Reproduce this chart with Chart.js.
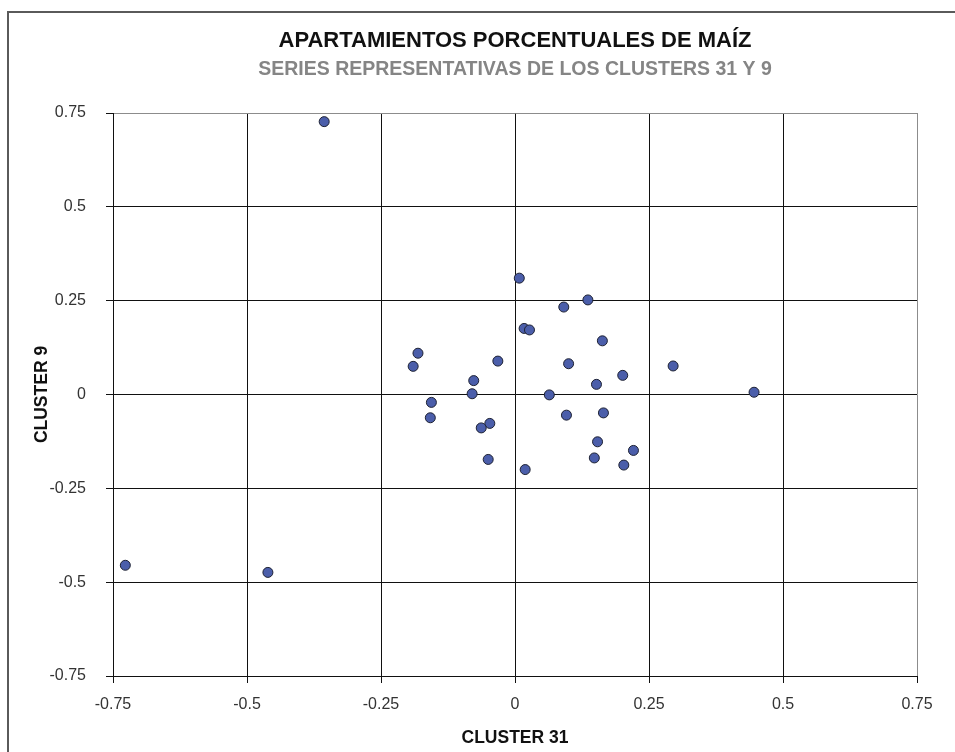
<!DOCTYPE html>
<html>
<head>
<meta charset="utf-8">
<script src="https://cdn.jsdelivr.net/npm/chart.js@4/dist/chart.umd.min.js"></script>
<style>
  html, body { margin: 0; padding: 0; background: #fff; }
  #wrap { width: 955px; height: 752px; }
</style>
</head>
<body>
<div id="wrap"><canvas id="c" width="955" height="752"></canvas></div>
<script>
// ---- Data ----
const cluster31 = [-0.356, -0.727, -0.461, 0.446,
  0.008, 0.136, 0.091, 0.017, 0.027, 0.163, -0.181, -0.190, -0.032, 0.100,
  0.295, 0.201, 0.152, -0.077, -0.080, 0.064, -0.156, -0.158, 0.096, 0.165,
  -0.047, -0.063, 0.154, 0.221, -0.050, 0.148, 0.203, 0.019];
const cluster9 = [0.727, -0.455, -0.474, 0.006,
  0.310, 0.252, 0.233, 0.176, 0.172, 0.143, 0.110, 0.075, 0.089, 0.082,
  0.076, 0.051, 0.027, 0.037, 0.002, -0.001, -0.021, -0.062, -0.055, -0.049,
  -0.077, -0.089, -0.126, -0.149, -0.173, -0.169, -0.188, -0.200];
const tickValues = [-0.75, -0.5, -0.25, 0, 0.25, 0.5, 0.75];
const tickLabels = ['-0.75', '-0.5', '-0.25', '0', '0.25', '0.5', '0.75'];
const titleText = 'APARTAMIENTOS PORCENTUALES DE MAÍZ';
const subtitleText = 'SERIES REPRESENTATIVAS DE LOS CLUSTERS 31 Y 9';
const xTitle = 'CLUSTER 31';
const yTitle = 'CLUSTER 9';

const points = cluster31.map((x, i) => ({ x: x, y: cluster9[i] }));
const FONT = '"Liberation Sans", Arial, sans-serif';

function labelFor(v) {
  const i = tickValues.findIndex(t => Math.abs(t - v) < 1e-9);
  return i >= 0 ? tickLabels[i] : '';
}
function setTicks(scale) {
  scale.ticks = tickValues.map(v => ({ value: v }));
}

const framePlugin = {
  id: 'frame',
  beforeDraw(chart) {
    const ctx = chart.ctx;
    ctx.save();
    ctx.fillStyle = '#fff';
    ctx.fillRect(0, 0, chart.width, chart.height);
    ctx.strokeStyle = '#5a5a5a';
    ctx.lineWidth = 2;
    ctx.strokeRect(8, 12, chart.width + 20, chart.height + 20);
    ctx.restore();
  }
};

new Chart(document.getElementById('c'), {
  type: 'scatter',
  data: {
    datasets: [{
      data: points,
      pointRadius: 5,
      pointHoverRadius: 5,
      backgroundColor: '#4b5eaa',
      borderColor: '#1e2233',
      borderWidth: 1
    }]
  },
  options: {
    responsive: false,
    animation: false,
    devicePixelRatio: 1,
    layout: { padding: { left: 0, right: 38, top: 0, bottom: 0 } },
    plugins: {
      legend: { display: false },
      tooltip: { enabled: false },
      title: {
        display: true,
        text: titleText,
        fullSize: false,
        color: '#111',
        font: { family: FONT, size: 22, weight: 'bold', lineHeight: 1.2 },
        padding: { top: 28, bottom: 0 }
      },
      subtitle: {
        display: true,
        text: subtitleText,
        fullSize: false,
        color: '#858585',
        font: { family: FONT, size: 19.5, weight: 'bold', lineHeight: 1.2 },
        padding: { top: 4, bottom: 31.2 }
      }
    },
    scales: {
      x: {
        type: 'linear',
        min: -0.75,
        max: 0.75,
        afterBuildTicks: setTicks,
        afterFit(scale) { scale.height = 76; },
        grid: {
          color: ctx => (ctx.tick && ctx.tick.value === 0.75) ? '#8c8c8c' : '#111',
          lineWidth: 1,
          tickLength: 7,
          tickColor: '#111'
        },
        border: { color: '#111', width: 1 },
        ticks: {
          color: '#333',
          font: { family: FONT, size: 16 },
          padding: 12,
          maxRotation: 0,
          autoSkip: false,
          callback: v => labelFor(v)
        },
        title: {
          display: true,
          text: xTitle,
          color: '#111',
          font: { family: FONT, size: 17.5, weight: 'bold', lineHeight: 1.2 },
          padding: { top: 0, bottom: 3.5 }
        }
      },
      y: {
        type: 'linear',
        min: -0.75,
        max: 0.75,
        afterBuildTicks: setTicks,
        afterFit(scale) { scale.width = 113; },
        grid: {
          color: ctx => (ctx.tick && ctx.tick.value === 0.75) ? '#8c8c8c' : '#111',
          lineWidth: 1,
          tickLength: 7,
          tickColor: '#111'
        },
        border: { color: '#111', width: 1 },
        ticks: {
          color: '#333',
          font: { family: FONT, size: 16 },
          padding: 20,
          autoSkip: false,
          callback: v => labelFor(v)
        },
        title: {
          display: true,
          text: yTitle,
          color: '#111',
          font: { family: FONT, size: 17.5, weight: 'bold', lineHeight: 1.2 },
          padding: { top: 32, bottom: 0 }
        }
      }
    }
  },
  plugins: [framePlugin]
});
</script>
</body>
</html>
